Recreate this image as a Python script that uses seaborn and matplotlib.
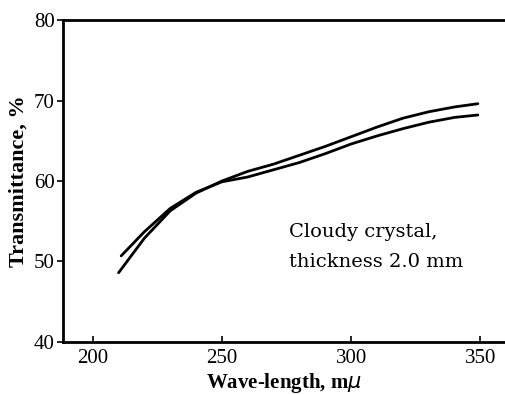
import matplotlib
matplotlib.use("Agg")
import matplotlib.pyplot as plt
import seaborn as sns
import pandas as pd

wave_a = [210, 220, 230, 240, 250, 260, 270, 280, 290, 300, 310, 320, 330, 340, 349]
trans_a = [48.6, 52.9, 56.3, 58.5, 60.0, 61.2, 62.1, 63.2, 64.3, 65.5, 66.7, 67.8, 68.6, 69.2, 69.6]
wave_b = [211, 220, 230, 240, 250, 260, 270, 280, 290, 300, 310, 320, 330, 340, 349]
trans_b = [50.7, 53.7, 56.6, 58.6, 59.9, 60.5, 61.4, 62.3, 63.4, 64.6, 65.6, 66.5, 67.3, 67.9, 68.2]
xticks = [200, 250, 300, 350]
yticks = [40, 50, 60, 70, 80]

df = pd.concat([
    pd.DataFrame({"wave": wave_a, "T": trans_a, "curve": "A"}),
    pd.DataFrame({"wave": wave_b, "T": trans_b, "curve": "B"}),
])

sns.set_style("ticks")
plt.rcParams["font.family"] = ["Liberation Serif", "DejaVu Serif"]
plt.rcParams["text.color"] = "black"
plt.rcParams["axes.labelcolor"] = "black"

fig = plt.figure(figsize=(5.06, 3.95), dpi=100)
ax = fig.add_axes([63/506, 1-342/395, 1-63/506-0.002, (342-20)/395])
sns.lineplot(data=df, x="wave", y="T", units="curve", estimator=None,
             color="black", linewidth=2.0, ax=ax, legend=False, sort=False)

ax.set_xlim(188.5, 359.5)
ax.set_ylim(40, 80)
ax.set_xticks(xticks)
ax.set_yticks(yticks)
ax.tick_params(axis="x", direction="in", length=4, width=1.2, labelsize=15, pad=5, colors="black")
ax.tick_params(axis="y", direction="out", length=4, width=1.2, labelsize=15, pad=2, colors="black")
for s in ["left", "bottom", "top"]:
    ax.spines[s].set_linewidth(2)
    ax.spines[s].set_color("black")
ax.spines["right"].set_visible(False)

ax.set_xlabel("Wave-length, m$\\mu$", fontsize=15, fontweight="bold", labelpad=2, color="black")
ax.set_ylabel("Transmittance, %", fontsize=16, fontweight="bold", labelpad=4, color="black")

ax.text(275.8, 53.7, "Cloudy crystal,", fontsize=14, ha="left", va="center",
        family="DejaVu Serif", color="black")
ax.text(275.8, 49.9, "thickness 2.0 mm", fontsize=14, ha="left", va="center",
        family="DejaVu Serif", color="black")

fig.savefig("out.png", dpi=100)
